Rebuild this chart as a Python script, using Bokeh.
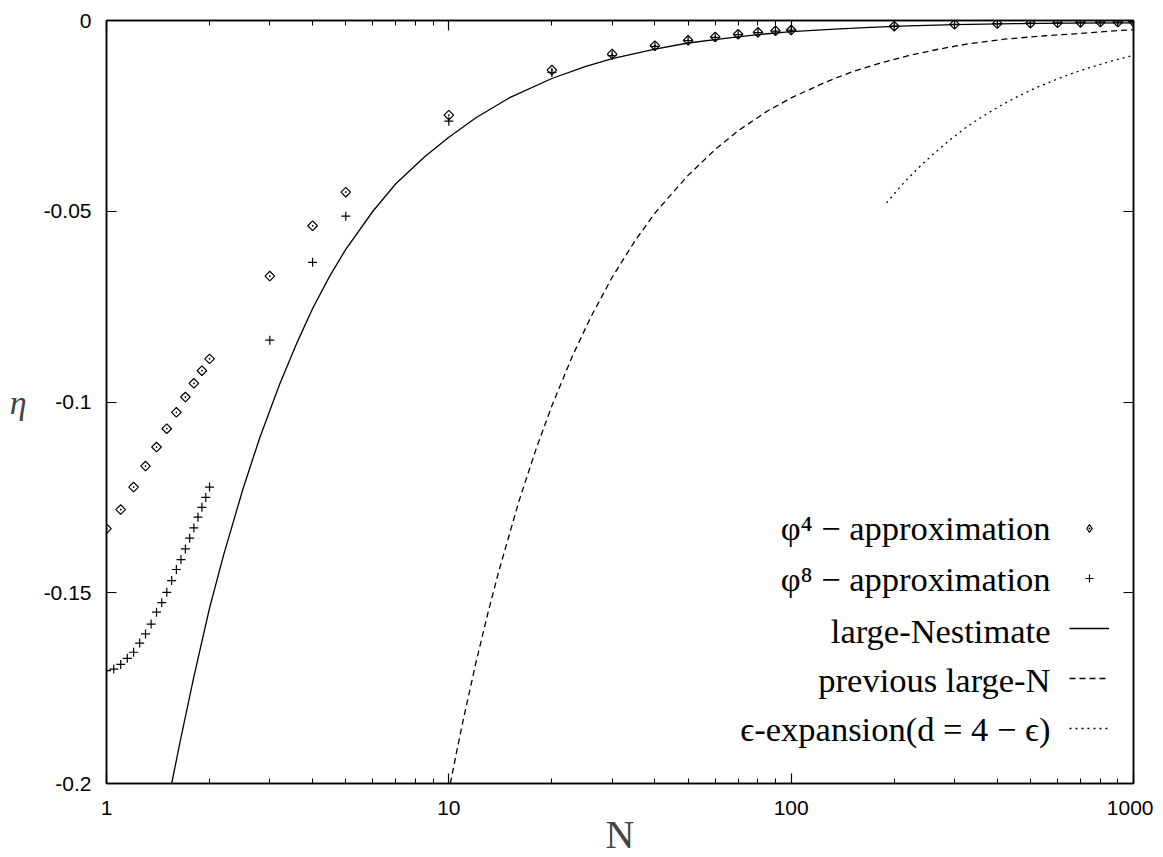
import numpy as np
from bokeh.plotting import figure
from bokeh.models import (FixedTicker, LogAxis, LinearAxis, Legend, LegendItem, Label,
                          PrintfTickFormatter, Range1d)
from bokeh.embed import file_html
from bokeh.resources import INLINE

# ---------------- data ----------------
n_phi4 = [1.0, 1.1, 1.2, 1.3, 1.4, 1.5, 1.6, 1.7, 1.8, 1.9, 2.0,
          3, 4, 5, 10, 20, 30, 40, 50, 60, 70, 80, 90, 100,
          200, 300, 400, 500, 600, 700, 800, 900, 1000]
eta_phi4 = [-0.1332, -0.1282, -0.1223, -0.1168, -0.1118, -0.1070, -0.1027, -0.0987, -0.0951, -0.0918, -0.0887,
            -0.0670, -0.0538, -0.0450, -0.0248, -0.0130, -0.0088, -0.0066, -0.0052, -0.0043, -0.0036, -0.0031,
            -0.0027, -0.0025, -0.0015, -0.0010, -0.0008, -0.0007, -0.0006, -0.0005, -0.0004, -0.0004, -0.0003]

n_phi8 = [1.0, 1.05, 1.1, 1.15, 1.2, 1.25, 1.3, 1.35, 1.4, 1.45, 1.5, 1.55, 1.6, 1.65, 1.7,
          1.75, 1.8, 1.85, 1.9, 1.95, 2.0,
          3, 4, 5, 10, 20, 30, 40, 50, 60, 70, 80, 90, 100,
          200, 300, 400, 500, 600, 700, 800, 900, 1000]
eta_phi8 = [-0.1704, -0.1700, -0.1688, -0.1672, -0.1656, -0.1632, -0.1608, -0.1582, -0.1551, -0.1526,
            -0.1499, -0.1468, -0.1439, -0.1413, -0.1385, -0.1357, -0.1330, -0.1302, -0.1276, -0.1250, -0.1223,
            -0.0838, -0.0634, -0.0513, -0.0264, -0.0136, -0.0092, -0.0068, -0.0053, -0.0044, -0.0037, -0.0032,
            -0.0028, -0.0025, -0.0015, -0.0010, -0.0008, -0.0007, -0.0006, -0.0005, -0.0004, -0.0004, -0.0003]

n_large = [1.55, 1.65, 1.8, 2.0, 2.2, 2.5, 2.8, 3.2, 3.6, 4.0, 4.5, 5.0, 6.0, 7.0, 8.5, 10, 12, 15,
           20, 25, 30, 40, 50, 65, 80, 100, 130, 170, 220, 300, 450, 650, 1000]
eta_large = [-0.200, -0.188, -0.172, -0.154, -0.140, -0.123, -0.1095, -0.0955, -0.0845, -0.0755, -0.0668,
             -0.0600, -0.0500, -0.0428, -0.0357, -0.0306, -0.0255, -0.0203, -0.0152, -0.0121, -0.0100,
             -0.0075, -0.0059, -0.0046, -0.0037, -0.0029, -0.0023, -0.0018, -0.0014, -0.0011, -0.0008,
             -0.0007, -0.0006]

n_prev = [10.1, 10.5, 11, 12, 13, 14, 16, 18, 20, 23, 26, 30, 35, 40, 45, 50, 60, 70, 85, 100,
          125, 150, 180, 220, 270, 330, 420, 550, 700, 850, 1000]
eta_prev = [-0.200, -0.1924, -0.1836, -0.1683, -0.1554, -0.1443, -0.1262, -0.1122, -0.1010, -0.0878,
            -0.0777, -0.0673, -0.0577, -0.0505, -0.0452, -0.0406, -0.0338, -0.0289, -0.0238, -0.0203,
            -0.0163, -0.0135, -0.0113, -0.0092, -0.0075, -0.0061, -0.0049, -0.0040, -0.0034, -0.0028,
            -0.0024]

n_eps = [190, 210, 235, 260, 290, 320, 360, 400, 450, 520, 600, 680, 780, 880, 1000]
eta_eps = [-0.0478, -0.0432, -0.0387, -0.0350, -0.0314, -0.0284, -0.0253, -0.0228, -0.0203, -0.0176,
           -0.0153, -0.0135, -0.0118, -0.0104, -0.0091]

x_major = [1, 10, 100, 1000]
x_minor = [2, 3, 4, 5, 6, 7, 8, 9, 20, 30, 40, 50, 60, 70, 80, 90, 200, 300, 400, 500, 600, 700, 800, 900]
y_major = [-0.2, -0.15, -0.1, -0.05, 0.0]
y_labels = ["-0.2", "-0.15", "-0.1", "-0.05", "0"]

legend_texts = ["φ⁴ − approximation", "φ⁸ − approximation", "large-Nestimate",
                "previous large-N", "ϵ-expansion(d = 4 − ϵ)"]

# ---------------- figure ----------------
p = figure(frame_width=1027, frame_height=763, x_axis_type="log",
           x_range=Range1d(1, 1000), y_range=Range1d(-0.2, 0),
           output_backend="svg", toolbar_location=None,
           min_border_left=106, min_border_right=20, min_border_top=20, min_border_bottom=68)
p.grid.visible = False
p.outline_line_color = "black"
p.outline_line_width = 1.5
p.background_fill_color = "white"
p.border_fill_color = "white"

def style_axis(ax, labels=True):
    ax.axis_line_color = "black"
    ax.axis_line_width = 1.5
    ax.major_tick_in = 10
    ax.major_tick_out = 0
    ax.minor_tick_in = 5
    ax.minor_tick_out = 0
    ax.major_tick_line_color = "black"
    ax.minor_tick_line_color = "black"
    ax.major_tick_line_width = 1.2
    ax.minor_tick_line_width = 1.0
    if labels:
        ax.major_label_text_font = "Liberation Sans"
        ax.major_label_text_font_size = "21px"
        ax.major_label_text_color = "black"
    else:
        ax.major_label_text_font_size = "6px"
        ax.major_label_text_alpha = 0
        ax.major_label_standoff = 0

xt = FixedTicker(ticks=x_major, minor_ticks=x_minor)
yt = FixedTicker(ticks=y_major, minor_ticks=[])

xa = p.xaxis[0]
xa.ticker = xt
xa.formatter = PrintfTickFormatter(format="%d")
style_axis(xa)
xa.major_label_standoff = 17
xa.axis_label = "N"
xa.axis_label_text_font = "Liberation Serif"
xa.axis_label_text_font_size = "40px"
xa.axis_label_text_font_style = "normal"
xa.axis_label_standoff = -6

ya = p.yaxis[0]
ya.ticker = yt
ya.major_label_overrides = {v: s for v, s in zip(y_major, y_labels)}
style_axis(ya)
ya.major_label_standoff = 15
ya.axis_label = "η"
ya.axis_label_orientation = "horizontal"
ya.axis_label_text_font = "Liberation Serif"
ya.axis_label_text_font_size = "34px"
ya.axis_label_text_font_style = "italic"
ya.axis_label_standoff = 14

top = LogAxis(ticker=FixedTicker(ticks=x_major, minor_ticks=x_minor))
style_axis(top, labels=False)
p.add_layout(top, "above")
right = LinearAxis(ticker=FixedTicker(ticks=y_major, minor_ticks=[]))
style_axis(right, labels=False)
p.add_layout(right, "right")

# ---------------- glyphs ----------------
r_large = p.line(n_large, eta_large, line_color="black", line_width=1.3)
r_prev = p.line(n_prev, eta_prev, line_color="black", line_width=1.3, line_dash="6 4")
r_eps = p.line(n_eps, eta_eps, line_color="black", line_width=1.3, line_dash="2 4")
r_phi8 = p.scatter(n_phi8, eta_phi8, marker="cross", size=9, line_color="black", line_width=1.2)
r_phi4 = p.scatter(n_phi4, eta_phi4, marker="square_dot", angle=np.pi / 4, size=6.8,
                   line_color="black", fill_alpha=0, line_width=1.2)

# key renderer for the legend: same points, drawn as (invisibly tiny) diamonds,
# so that the legend shows a diamond (legend markers ignore the glyph angle)
key_phi4 = p.scatter(n_phi4, eta_phi4, marker="diamond_dot", size=0.1,
                     line_color="black", fill_alpha=0, line_width=1.2)

legend = Legend(items=[LegendItem(label=" ", renderers=[key_phi4]),
                       LegendItem(label=" ", renderers=[r_phi8]),
                       LegendItem(label=" ", renderers=[r_large]),
                       LegendItem(label=" ", renderers=[r_prev]),
                       LegendItem(label=" ", renderers=[r_eps])],
                location=(963, 45), glyph_width=40, glyph_height=20, spacing=30,
                padding=0, margin=0, label_standoff=0,
                label_text_font_size="8px", label_text_alpha=0,
                background_fill_alpha=0, border_line_alpha=0)
p.add_layout(legend)

row_y = [256, 205, 153, 104, 55]
for t, yy in zip(legend_texts, row_y):
    p.add_layout(Label(x=944, y=yy, x_units="screen", y_units="screen", text=t,
                       text_align="right", text_baseline="middle",
                       text_font="Liberation Serif", text_font_size="34.5px", text_color="black"))

open("out.html", "w").write(file_html(p, INLINE))
